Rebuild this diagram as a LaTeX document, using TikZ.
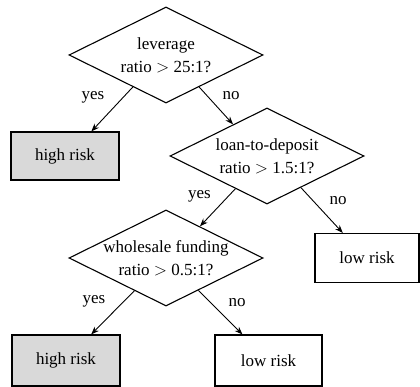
\documentclass[tikz,border=0pt]{standalone}
\usepackage{fontspec}
\setmainfont{Liberation Serif}
\usetikzlibrary{shapes.geometric,arrows.meta}
\tikzset{
  decision/.style={draw,diamond,aspect=2,minimum width=194pt,minimum height=96pt,inner sep=-4pt,align=center},
  outcome/.style={draw,rectangle,inner sep=0pt},
  highrisk/.style={outcome,fill=black!15},
  branch/.style={anchor=base}
}
\begin{document}
\begin{tikzpicture}[x=1pt,y=-1pt,line width=1.1pt,font=\fontsize{17}{23}\selectfont]
      \useasboundingbox (0,0) rectangle (420,387);
      \draw
        (166,55) node[decision] (lev){leverage\\ratio $>$ 25:1?}
        (267,156) node[decision] (ltd){loan-to-deposit\\ratio $>$ 1.5:1?}
        (166,258) node[decision] (wf){wholesale funding\\ratio $>$ 0.5:1?}
        (65,156) node[highrisk,minimum width=108pt,minimum height=48pt] (hr1){high risk}
        (367,258) node[outcome,minimum width=104pt,minimum height=49pt] (lr1){low risk}
        (66,360.5) node[highrisk,minimum width=108pt,minimum height=51pt] (hr2){high risk}
        (268.5,360.5) node[outcome,minimum width=107pt,minimum height=51pt] (lr2){low risk};
      \path
        (93,100) node[branch] (y1){yes}
        (231,100) node[branch] (n1){no}
        (199.5,199) node[branch] (y2){yes}
        (338,205) node[branch] (n2){no}
        (94,303) node[branch] (y3){yes}
        (237,306) node[branch] (n3){no};
      \begin{scope}[line width=0.9pt,-{Stealth[length=8pt,width=6pt]}]
        \draw (lev.224) to (hr1.43);
        \draw (lev.316) to (ltd.137);
        \draw (ltd.226) to (wf.43);
        \draw (ltd.317) to (lr1.134);
        \draw (wf.226) to (hr2.46);
        \draw (wf.315) to (lr2.135);
      \end{scope}
    \end{tikzpicture}
\end{document}
